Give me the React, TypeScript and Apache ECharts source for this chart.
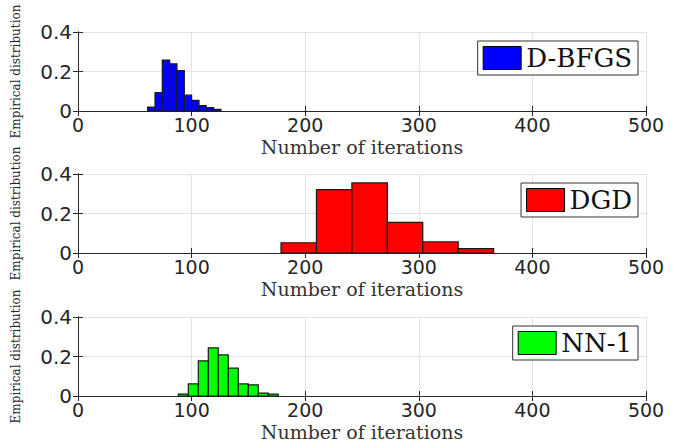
import React, { useEffect, useRef } from "react";
import * as echarts from "echarts";

const names = ["D-BFGS", "DGD", "NN-1"];
const colors = ["#0000ff", "#ff0000", "#00ff00"];

const bfgsEdges = [61.3, 67.8, 74.2, 80.7, 87.1, 93.6, 100.0, 106.5, 112.9, 119.4, 125.8];
const bfgsHeights = [0.02, 0.093, 0.258, 0.239, 0.205, 0.08, 0.054, 0.027, 0.017, 0.008];

const dgdEdges = [178.7, 209.9, 241.1, 272.3, 303.5, 334.7, 365.9];
const dgdHeights = [0.052, 0.321, 0.355, 0.155, 0.057, 0.022];

const nnEdges = [88.3, 97.1, 105.9, 114.7, 123.5, 132.3, 141.1, 149.9, 158.7, 167.5, 176.3];
const nnHeights = [0.01, 0.061, 0.178, 0.244, 0.208, 0.141, 0.061, 0.056, 0.015, 0.01];

const xTicks = [0, 100, 200, 300, 400, 500];
const yTicks = [0, 0.2, 0.4];

const xLabel = "Number of iterations";
const yLabel = "Empirical distribution";

const gridTops = [32, 174, 317];

function bins(edges: number[], heights: number[]) {
  return heights.map((h, i) => [edges[i], edges[i + 1], h]);
}

export default function App() {
  const ref = useRef<HTMLDivElement>(null);
  useEffect(() => {
    if (!ref.current) return;
    const chart = echarts.init(ref.current, null, { renderer: "svg" });
    const datasets = [
      bins(bfgsEdges, bfgsHeights),
      bins(dgdEdges, dgdHeights),
      bins(nnEdges, nnHeights),
    ];
    const axisColor = "#262626";
    const grids: any[] = [];
    const xAxes: any[] = [];
    const yAxes: any[] = [];
    const series: any[] = [];
    const legends: any[] = [];
    for (let k = 0; k < 3; k++) {
      grids.push({ left: 78, width: 568, top: gridTops[k], height: 79, containLabel: false });
      xAxes.push({
        type: "value",
        gridIndex: k,
        min: xTicks[0],
        max: xTicks[xTicks.length - 1],
        interval: 100,
        position: "bottom",
        name: xLabel,
        nameLocation: "middle",
        nameGap: 26,
        nameTextStyle: { fontFamily: "DejaVu Serif", fontSize: 19, lineHeight: 19, color: "#333333" },
        axisLine: { show: true, lineStyle: { color: axisColor, width: 1 } },
        axisTick: { show: true, inside: true, length: 5, lineStyle: { color: axisColor } },
        axisLabel: { margin: 4, fontFamily: "DejaVu Sans", fontSize: 19, lineHeight: 19, color: "#262626" },
        splitLine: { show: true, lineStyle: { color: "#e3e3e3", width: 1 } },
      });
      xAxes.push({
        type: "value",
        gridIndex: k,
        min: xTicks[0],
        max: xTicks[xTicks.length - 1],
        interval: 100,
        position: "top",
        axisLine: { show: true, lineStyle: { color: axisColor, width: 1 } },
        axisTick: { show: true, inside: true, length: 5, lineStyle: { color: axisColor } },
        axisLabel: { show: false },
        splitLine: { show: false },
      });
      yAxes.push({
        type: "value",
        gridIndex: k,
        min: yTicks[0],
        max: yTicks[yTicks.length - 1],
        interval: 0.2,
        position: "left",
        name: yLabel,
        nameLocation: "middle",
        nameGap: 56,
        nameTextStyle: { fontFamily: "DejaVu Serif", fontSize: 12, color: "#262626" },
        axisLine: { show: true, lineStyle: { color: axisColor, width: 1 } },
        axisTick: { show: true, inside: true, length: 5, lineStyle: { color: axisColor } },
        axisLabel: { margin: 6, fontFamily: "DejaVu Sans", fontSize: 20, color: "#262626" },
        splitLine: { show: true, lineStyle: { color: "#e3e3e3", width: 1 } },
      });
      yAxes.push({
        type: "value",
        gridIndex: k,
        min: yTicks[0],
        max: yTicks[yTicks.length - 1],
        interval: 0.2,
        position: "right",
        axisLine: { show: true, lineStyle: { color: axisColor, width: 1 } },
        axisTick: { show: true, inside: true, length: 5, lineStyle: { color: axisColor } },
        axisLabel: { show: false },
        splitLine: { show: false },
      });
      const color = colors[k];
      series.push({
        type: "custom",
        name: names[k],
        xAxisIndex: 2 * k,
        yAxisIndex: 2 * k,
        itemStyle: { color },
        data: datasets[k],
        encode: { x: [0, 1], y: 2 },
        renderItem: (params: any, api: any) => {
          const x0 = api.value(0);
          const x1 = api.value(1);
          const h = api.value(2);
          const p0 = api.coord([x0, h]);
          const p1 = api.coord([x1, 0]);
          return {
            type: "rect",
            shape: { x: p0[0], y: p0[1], width: p1[0] - p0[0], height: p1[1] - p0[1] },
            style: { fill: color, stroke: "#1a1a1a", lineWidth: 1.2 },
          };
        },
      });
      legends.push({
        data: [{ name: names[k], icon: "rect" }],
        right: 48,
        top: gridTops[k] + 9,
        orient: "horizontal",
        padding: [4, 6, 4, 5],
        itemWidth: 38,
        itemHeight: 23,
        itemGap: 5,
        backgroundColor: "#ffffff",
        borderColor: "#333333",
        borderWidth: 1,
        borderRadius: 0,
        selectedMode: false,
        itemStyle: { borderColor: "#000000", borderWidth: 1 },
        textStyle: { fontFamily: "DejaVu Serif", fontSize: 26, color: "#111111", padding: [0, 0, 0, 0] },
      });
    }
    chart.setOption({
      animation: false,
      backgroundColor: "#ffffff",
      grid: grids,
      xAxis: xAxes,
      yAxis: yAxes,
      legend: legends,
      series,
    });
    return () => chart.dispose();
  }, []);
  return (
    <div
      ref={ref}
      style={{ position: "fixed", left: 0, top: 0, width: 686, height: 445 }}
    />
  );
}
